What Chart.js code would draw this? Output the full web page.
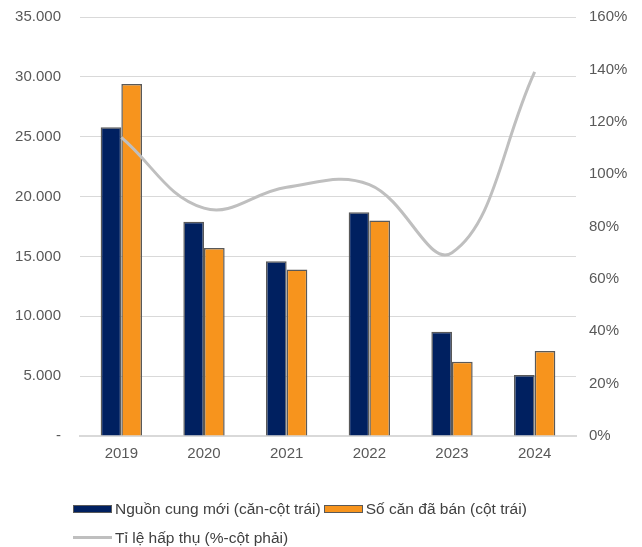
<!DOCTYPE html>
<html>
<head>
<meta charset="utf-8">
<script src="https://cdn.jsdelivr.net/npm/chart.js@4/dist/chart.umd.min.js"></script>
<style>
    body { margin: 0; background: #fff; }
    #wrap { position: relative; width: 642px; height: 547px; }
    #legend { position: absolute; left: 73px; top: 494px; font-family: "Liberation Sans", Arial, sans-serif; font-size: 15.5px; color: #404040; }
    .row { display: flex; align-items: center; height: 29px; white-space: nowrap; }
    .box { width: 37px; height: 6px; border: 1px solid #595959; margin-right: 3px; }
    .ln { width: 39px; height: 3px; background: #BFBFBF; margin-right: 3px; }
</style>
</head>
<body>
<div id="wrap">
    <canvas id="chart" width="642" height="547"></canvas>
    <div id="legend"></div>
</div>
<script>
const years = ['2019', '2020', '2021', '2022', '2023', '2024'];
const newSupply = [25800, 17900, 14600, 18700, 8700, 5100];
const unitsSold = [29400, 15700, 13900, 18000, 6200, 7100];
const absorption = [114, 87, 95, 96, 70, 139];

const supplyLabel = 'Nguồn cung mới (căn-cột trái)';
const soldLabel = 'Số căn đã bán (cột trái)';
const rateLabel = 'Tỉ lệ hấp thụ (%-cột phải)';

const navy = '#002060';
const orange = '#F7941D';
const lineGray = '#BFBFBF';
const tickColor = '#595959';
const font = { family: '"Liberation Sans", Arial, sans-serif', size: 15 };

const ctx = document.getElementById('chart').getContext('2d');

new Chart(ctx, {
    data: {
        labels: years,
        datasets: [{
            type: 'bar',
            label: supplyLabel,
            data: newSupply,
            backgroundColor: navy,
            borderColor: '#595959',
            borderWidth: 1.5,
            yAxisID: 'y',
            order: 1,
        }, {
            type: 'bar',
            label: soldLabel,
            data: unitsSold,
            backgroundColor: orange,
            borderColor: '#595959',
            borderWidth: 1.5,
            yAxisID: 'y',
            order: 1,
        }, {
            type: 'line',
            label: rateLabel,
            data: absorption,
            borderColor: lineGray,
            borderWidth: 3,
            pointRadius: 0,
            tension: 0.4,
            fill: false,
            yAxisID: 'y1',
            order: 0,
        }]
    },
    options: {
        responsive: false,
        animation: false,
        datasets: {
            bar: { categoryPercentage: 0.5, barPercentage: 1.0 }
        },
        layout: { padding: { top: 17 } },
        plugins: {
            legend: { display: false },
            tooltip: { enabled: false }
        },
        scales: {
            x: {
                grid: { display: false, drawTicks: false },
                border: { color: '#D9D9D9', width: 2 },
                ticks: { color: tickColor, font: font, padding: 9 },
                afterFit: s => { s.height = 111; }
            },
            y: {
                position: 'left',
                min: 0,
                max: 35000,
                grid: { color: '#D9D9D9', drawTicks: false },
                border: { display: false },
                ticks: {
                    stepSize: 5000,
                    color: tickColor,
                    font: font,
                    padding: 19,
                    callback: v => v === 0 ? '-' : v.toLocaleString('de-DE')
                },
                afterFit: s => { s.width = 80; s.paddingTop = 0; s.paddingBottom = 0; }
            },
            y1: {
                position: 'right',
                min: 0,
                max: 160,
                grid: { display: false, drawTicks: false },
                border: { display: false },
                ticks: {
                    stepSize: 20,
                    color: tickColor,
                    font: font,
                    padding: 13,
                    callback: v => v + '%'
                },
                afterFit: s => { s.width = 66; s.paddingTop = 0; s.paddingBottom = 0; }
            }
        }
    }
});

// legend laid out like the original: two rows, left aligned
const legend = document.getElementById('legend');
legend.innerHTML =
    '<div class="row"><span class="box" style="background:' + navy + '"></span>' + supplyLabel +
    '<span class="box" style="background:' + orange + ';margin-left:3px"></span>' + soldLabel + '</div>' +
    '<div class="row"><span class="ln"></span>' + rateLabel + '</div>';
</script>
</body>
</html>
